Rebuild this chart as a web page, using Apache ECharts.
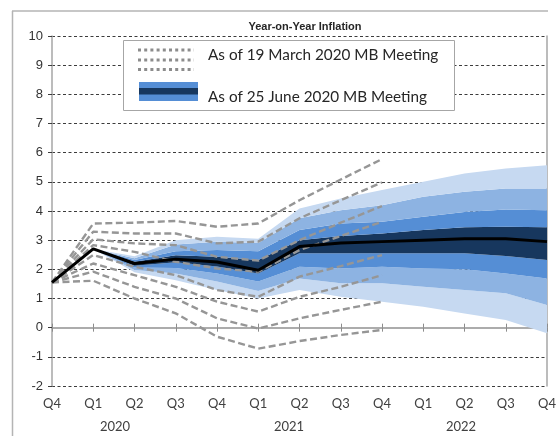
<!DOCTYPE html>
<html>
<head>
<meta charset="utf-8">
<script src="https://cdn.jsdelivr.net/npm/echarts@6/dist/echarts.min.js"></script>
<style>
  html, body { margin: 0; padding: 0; background: #fff; }
  #main { width: 560px; height: 436px; }
</style>
</head>
<body>
<div id="main"></div>
<script>
// quarters Q4 2019 .. Q4 2022
var quarters = ['Q4', 'Q1', 'Q2', 'Q3', 'Q4', 'Q1', 'Q2', 'Q3', 'Q4', 'Q1', 'Q2', 'Q3', 'Q4'];

// June 2020 projection: central path and fan band edges
var juneCentral   = [1.55, 2.70, 2.20, 2.35, 2.25, 1.97, 2.78, 2.90, 2.95, 3.00, 3.05, 3.05, 2.95];
var lightestLow   = [null, 2.70, 1.90, 1.63, 1.29, 1.00, 1.29, 1.06, 0.89, 0.72, 0.49, 0.26, -0.19];
var lighterLow    = [null, 2.70, 1.98, 1.86, 1.58, 1.26, 1.69, 1.52, 1.52, 1.40, 1.29, 1.18, 0.78];
var mediumLow     = [null, 2.70, 2.06, 2.05, 1.86, 1.58, 2.09, 2.03, 2.09, 2.03, 2.00, 1.86, 1.69];
var navyLow       = [null, 2.70, 2.12, 2.24, 2.10, 1.86, 2.55, 2.55, 2.55, 2.55, 2.55, 2.46, 2.32];
var navyHigh      = [null, 2.70, 2.26, 2.48, 2.43, 2.32, 3.00, 3.14, 3.23, 3.35, 3.44, 3.46, 3.44];
var mediumHigh    = [null, 2.70, 2.32, 2.62, 2.66, 2.62, 3.35, 3.57, 3.63, 3.80, 3.97, 4.05, 4.03];
var lighterHigh   = [null, 2.70, 2.38, 2.85, 2.95, 2.90, 3.75, 4.03, 4.20, 4.49, 4.66, 4.77, 4.77];
var lightestHigh  = [null, 2.70, 2.45, 3.00, 3.12, 3.05, 4.09, 4.43, 4.72, 5.00, 5.29, 5.46, 5.57];

// March 2020 projection: band edges (Q4 2019 .. Q4 2021)
var marchLines = [
    [1.55, 3.57, 3.60, 3.66, 3.46, 3.57, 4.37, 5.08, 5.78],
    [1.55, 3.29, 3.23, 3.23, 2.89, 2.95, 3.75, 4.37, 4.98],
    [1.55, 3.03, 2.89, 2.83, 2.43, 2.30, 3.00, 3.60, 4.17],
    [1.55, 2.83, 2.60, 2.26, 2.03, 1.92, 2.66, 3.14, 3.63],
    [1.55, 2.49, 2.09, 1.80, 1.29, 1.06, 1.75, 2.11, 2.49],
    [1.55, 2.20, 1.80, 1.40, 0.89, 0.55, 1.06, 1.40, 1.80],
    [1.55, 1.92, 1.40, 1.00, 0.32, -0.03, 0.32, 0.61, 0.89],
    [1.55, 1.61, 1.00, 0.49, -0.31, -0.72, -0.46, -0.25, -0.08]
];

var yearLabels = ['2020', '2021', '2022'];

var cLightest = '#c6d9f1', cLighter = '#8db3e2', cMedium = '#558ed5', cNavy = '#17375e';

var chart = echarts.init(document.getElementById('main'));

// stacked fan: base edge + differences between neighbouring edges
var edges = [lightestLow, lighterLow, mediumLow, navyLow, navyHigh, mediumHigh, lighterHigh, lightestHigh];
var fills = [cLightest, cLighter, cMedium, cNavy, cMedium, cLighter, cLightest];
var series = [];
series.push({
    type: 'line', stack: 'fan', stackStrategy: 'all', data: lightestLow,
    symbol: 'none', lineStyle: { width: 0 }, silent: true, z: 2
});
for (var k = 1; k < edges.length; k++) {
    var diff = [];
    for (var i = 0; i < quarters.length; i++) {
        var a = edges[k][i], b = edges[k - 1][i];
        diff.push(a == null || b == null ? null : +(a - b).toFixed(3));
    }
    series.push({
        type: 'line', stack: 'fan', stackStrategy: 'all', data: diff,
        symbol: 'none', lineStyle: { width: 0 },
        areaStyle: { color: fills[k - 1], opacity: 1 }, silent: true, z: 2
    });
}
// March dashed lines
marchLines.forEach(function(d) {
    series.push({
        type: 'line', data: d, symbol: 'none', z: 3, silent: true,
        lineStyle: { color: '#969696', width: 2.4, type: [7, 3.5] }
    });
});
// June central projection
series.push({
    type: 'line', data: juneCentral, symbol: 'none', z: 4, silent: true,
    lineStyle: { color: '#000', width: 3 }
});

var grid = { left: 52, right: 13, top: 36, bottom: 50 };

var graphics = [
    // outer frame
    { type: 'line', shape: { x1: 12, y1: 11, x2: 548, y2: 11 }, style: { stroke: '#b4b4b4', lineWidth: 1.5 }, z: 100 },
    { type: 'line', shape: { x1: 12.5, y1: 11, x2: 12.5, y2: 436 }, style: { stroke: '#b4b4b4', lineWidth: 1.5 }, z: 100 },
    // chart title
    { type: 'text', x: 305, y: 27, style: { text: 'Year-on-Year Inflation', font: 'bold 11px "Liberation Sans Narrow", "Liberation Sans", Arial', fill: '#262626', align: 'center', verticalAlign: 'middle' }, z: 100 },
    // legend box
    { type: 'rect', shape: { x: 123.5, y: 40.5, width: 331, height: 70 }, style: { fill: '#fff', stroke: '#a6a6a6', lineWidth: 1 }, z: 100 },
    { type: 'line', shape: { x1: 138, y1: 50, x2: 194, y2: 50 }, style: { stroke: '#8c8c8c', lineWidth: 3, lineDash: [3, 3.2] }, z: 101 },
    { type: 'line', shape: { x1: 138, y1: 60, x2: 194, y2: 60 }, style: { stroke: '#8c8c8c', lineWidth: 3, lineDash: [3, 3.2] }, z: 101 },
    { type: 'line', shape: { x1: 138, y1: 69.5, x2: 194, y2: 69.5 }, style: { stroke: '#8c8c8c', lineWidth: 3, lineDash: [3, 3.2] }, z: 101 },
    { type: 'rect', shape: { x: 139, y: 82, width: 59, height: 19 }, style: { fill: cMedium }, z: 101 },
    { type: 'rect', shape: { x: 139, y: 88, width: 59, height: 6.5 }, style: { fill: cNavy }, z: 102 },
    { type: 'text', x: 208, y: 55, style: { text: 'As of 19 March 2020 MB Meeting', font: '15.3px Lato, "Open Sans", sans-serif', fill: '#262626', verticalAlign: 'middle' }, z: 101 },
    { type: 'text', x: 208, y: 97, style: { text: 'As of 25 June 2020 MB Meeting', font: '15.3px Lato, "Open Sans", sans-serif', fill: '#262626', verticalAlign: 'middle' }, z: 101 }
];
var yearX = [115, 289, 461];
yearLabels.forEach(function(t, i) {
    graphics.push({
        type: 'text', x: yearX[i], y: 427,
        style: { text: t, font: '13px Lato, "Open Sans", sans-serif', fill: '#404040', align: 'center', verticalAlign: 'middle' },
        z: 100
    });
});

// split line colours: hide the dashed line at 0 (axis line is drawn there)
var splitColors = [];
for (var v = -2; v <= 10; v++) splitColors.push(v === 0 ? 'rgba(0,0,0,0)' : '#3c3c3c');

option = {
    animation: false,
    backgroundColor: '#fff',
    grid: grid,
    xAxis: [{
        type: 'category', data: quarters, boundaryGap: false, position: 'bottom',
        axisLine: { onZero: true, lineStyle: { color: '#a6a6a6', width: 1.5 } },
        axisTick: { show: true, inside: true, length: 4, lineStyle: { color: '#8c8c8c' } },
        axisLabel: { show: false }, splitLine: { show: false }
    }, {
        type: 'category', data: quarters, boundaryGap: false, position: 'bottom',
        axisLine: { onZero: true, lineStyle: { color: '#a6a6a6', width: 1.5 } },
        axisTick: { show: true, inside: false, length: 4, lineStyle: { color: '#8c8c8c' } },
        axisLabel: { show: false }, splitLine: { show: false }
    }, {
        type: 'category', data: quarters, boundaryGap: false, position: 'bottom',
        axisLine: { show: false, onZero: false }, axisTick: { show: false },
        axisLabel: { show: true, interval: 0, margin: 11, color: '#404040', fontSize: 13, fontFamily: 'Lato, "Open Sans", sans-serif' },
        splitLine: { show: false }
    }],
    yAxis: [{
        type: 'value', min: -2, max: 10, interval: 1, position: 'left',
        axisLine: { show: true, lineStyle: { color: '#a6a6a6', width: 1.5 } },
        axisTick: { show: true, length: 4, lineStyle: { color: '#3c3c3c' } },
        axisLabel: { color: '#333', fontSize: 13, margin: 9, fontFamily: '"Liberation Sans", Arial, sans-serif' },
        splitLine: { show: true, lineStyle: { color: splitColors, width: 1, type: [3, 2.5] } }
    }, {
        type: 'value', min: -2, max: 10, interval: 1, position: 'right',
        axisLine: { show: true, lineStyle: { color: '#a6a6a6', width: 1.5 } },
        axisTick: { show: false }, axisLabel: { show: false }, splitLine: { show: false }
    }],
    series: series,
    graphic: graphics
};
chart.setOption(option);
</script>
</body>
</html>
